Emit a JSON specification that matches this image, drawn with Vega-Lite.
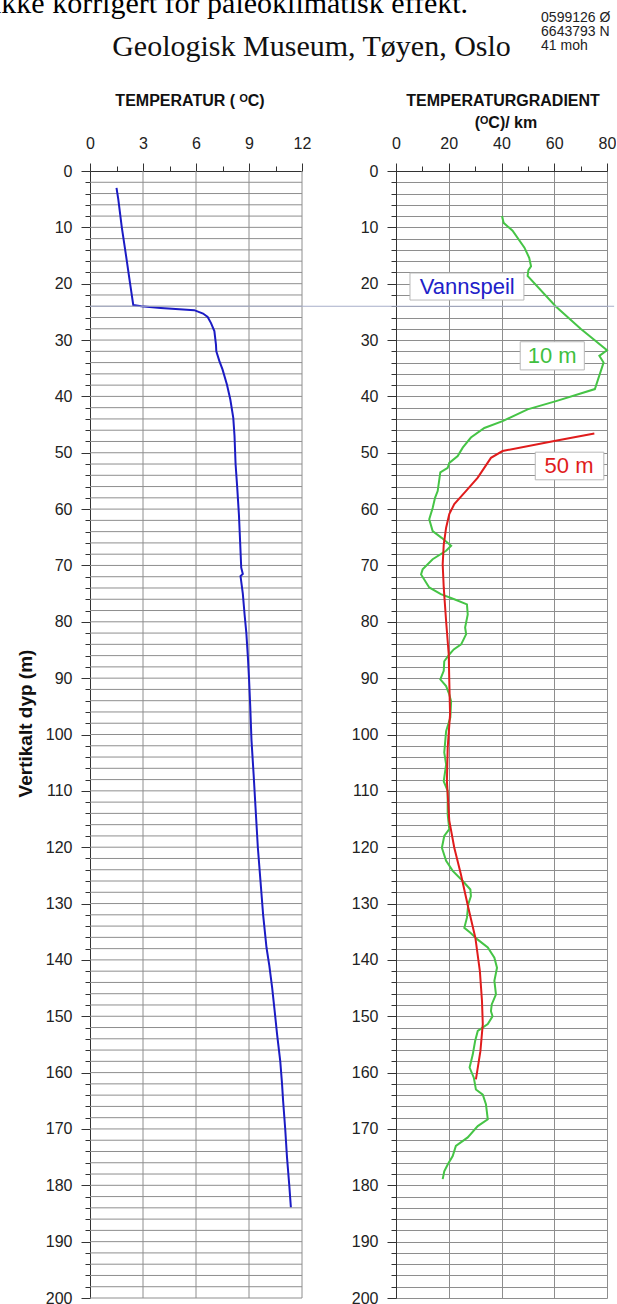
{
  "$schema": "https://vega.github.io/schema/vega-lite/v6.json",
  "autosize": {"type": "pad"},
  "padding": {"top": -12, "left": -8, "right": 0, "bottom": 0},
  "background": "white",
  "bounds": "flush",
  "spacing": 94,
  "datasets": {
    "temp": [
      {"depth": 3, "temp": 1.5}, {"depth": 5, "temp": 1.6}, {"depth": 10, "temp": 1.8}, {"depth": 15, "temp": 2.04},
      {"depth": 20, "temp": 2.27}, {"depth": 23.8, "temp": 2.45}, {"depth": 24.0, "temp": 2.9}, {"depth": 24.3, "temp": 4.0},
      {"depth": 24.7, "temp": 5.9}, {"depth": 25.3, "temp": 6.4}, {"depth": 25.9, "temp": 6.66}, {"depth": 27, "temp": 6.85},
      {"depth": 28.4, "temp": 7.04}, {"depth": 30, "temp": 7.1}, {"depth": 30.8, "temp": 7.13}, {"depth": 32, "temp": 7.15},
      {"depth": 33.7, "temp": 7.32}, {"depth": 35.2, "temp": 7.5}, {"depth": 37.9, "temp": 7.75}, {"depth": 40.5, "temp": 7.94},
      {"depth": 43.8, "temp": 8.11}, {"depth": 47, "temp": 8.18}, {"depth": 52, "temp": 8.24}, {"depth": 56, "temp": 8.33},
      {"depth": 61, "temp": 8.43}, {"depth": 66, "temp": 8.5}, {"depth": 70.4, "temp": 8.56}, {"depth": 71.5, "temp": 8.65},
      {"depth": 71.9, "temp": 8.52}, {"depth": 75, "temp": 8.65}, {"depth": 78.7, "temp": 8.75}, {"depth": 82, "temp": 8.85},
      {"depth": 86.4, "temp": 8.94}, {"depth": 90, "temp": 9.0}, {"depth": 95, "temp": 9.07}, {"depth": 101, "temp": 9.14},
      {"depth": 107, "temp": 9.26}, {"depth": 113, "temp": 9.37}, {"depth": 120, "temp": 9.5}, {"depth": 126, "temp": 9.65},
      {"depth": 132, "temp": 9.8}, {"depth": 137.8, "temp": 9.99}, {"depth": 141, "temp": 10.15}, {"depth": 144.9, "temp": 10.31},
      {"depth": 149, "temp": 10.45}, {"depth": 153.2, "temp": 10.59}, {"depth": 158, "temp": 10.77}, {"depth": 162, "temp": 10.87},
      {"depth": 165, "temp": 10.93}, {"depth": 170, "temp": 11.05}, {"depth": 175, "temp": 11.15}, {"depth": 180, "temp": 11.28},
      {"depth": 183.9, "temp": 11.37}
    ],
    "grad": [
      {"series": "10 m", "depth": 8.0, "grad": 40.2}, {"series": "10 m", "depth": 9.2, "grad": 40.8}, {"series": "10 m", "depth": 10.6, "grad": 44.2},
      {"series": "10 m", "depth": 13.6, "grad": 48.7}, {"series": "10 m", "depth": 15.4, "grad": 50.5}, {"series": "10 m", "depth": 16.9, "grad": 51.2},
      {"series": "10 m", "depth": 17.6, "grad": 50.2}, {"series": "10 m", "depth": 18.6, "grad": 49.9}, {"series": "10 m", "depth": 24, "grad": 60.5},
      {"series": "10 m", "depth": 28, "grad": 70}, {"series": "10 m", "depth": 31.8, "grad": 80}, {"series": "10 m", "depth": 32.8, "grad": 77.1},
      {"series": "10 m", "depth": 34.0, "grad": 78.7}, {"series": "10 m", "depth": 38.7, "grad": 75.4}, {"series": "10 m", "depth": 40.8, "grad": 61},
      {"series": "10 m", "depth": 42.3, "grad": 49.9}, {"series": "10 m", "depth": 44.4, "grad": 40.4}, {"series": "10 m", "depth": 45.6, "grad": 33.5},
      {"series": "10 m", "depth": 47.3, "grad": 28.4}, {"series": "10 m", "depth": 49.1, "grad": 25.3}, {"series": "10 m", "depth": 50.6, "grad": 23.4},
      {"series": "10 m", "depth": 51.8, "grad": 20.2}, {"series": "10 m", "depth": 52.7, "grad": 19.6}, {"series": "10 m", "depth": 53.5, "grad": 16.8},
      {"series": "10 m", "depth": 56.8, "grad": 15.8}, {"series": "10 m", "depth": 58, "grad": 14.8}, {"series": "10 m", "depth": 59.8, "grad": 13.9},
      {"series": "10 m", "depth": 61.8, "grad": 12.6}, {"series": "10 m", "depth": 63.9, "grad": 13.9}, {"series": "10 m", "depth": 65.1, "grad": 17.3},
      {"series": "10 m", "depth": 66.5, "grad": 20.9}, {"series": "10 m", "depth": 67.4, "grad": 19}, {"series": "10 m", "depth": 68.9, "grad": 13.9},
      {"series": "10 m", "depth": 70.7, "grad": 10.1}, {"series": "10 m", "depth": 71.6, "grad": 9.5}, {"series": "10 m", "depth": 73.9, "grad": 12.6},
      {"series": "10 m", "depth": 75.1, "grad": 17}, {"series": "10 m", "depth": 76, "grad": 22.1}, {"series": "10 m", "depth": 76.9, "grad": 26.9},
      {"series": "10 m", "depth": 78.7, "grad": 27.2}, {"series": "10 m", "depth": 81, "grad": 26.2}, {"series": "10 m", "depth": 82.2, "grad": 26.6},
      {"series": "10 m", "depth": 84, "grad": 24.7}, {"series": "10 m", "depth": 84.9, "grad": 21.9}, {"series": "10 m", "depth": 85.8, "grad": 20.2},
      {"series": "10 m", "depth": 87, "grad": 18.3}, {"series": "10 m", "depth": 88.7, "grad": 18.1}, {"series": "10 m", "depth": 90.2, "grad": 16.8},
      {"series": "10 m", "depth": 91.4, "grad": 19}, {"series": "10 m", "depth": 92.9, "grad": 20.2}, {"series": "10 m", "depth": 94.1, "grad": 20.9},
      {"series": "10 m", "depth": 97, "grad": 20.6}, {"series": "10 m", "depth": 99.4, "grad": 19}, {"series": "10 m", "depth": 103.2, "grad": 18.3},
      {"series": "10 m", "depth": 105.3, "grad": 19}, {"series": "10 m", "depth": 108.3, "grad": 18.1}, {"series": "10 m", "depth": 110, "grad": 19.6},
      {"series": "10 m", "depth": 114.2, "grad": 19.6}, {"series": "10 m", "depth": 116.8, "grad": 20.2}, {"series": "10 m", "depth": 118, "grad": 18.3},
      {"series": "10 m", "depth": 120.1, "grad": 17.4}, {"series": "10 m", "depth": 122.4, "grad": 19}, {"series": "10 m", "depth": 124.2, "grad": 21.5},
      {"series": "10 m", "depth": 126, "grad": 25.3}, {"series": "10 m", "depth": 127.5, "grad": 28.2}, {"series": "10 m", "depth": 128.7, "grad": 28.4},
      {"series": "10 m", "depth": 130.1, "grad": 27.4}, {"series": "10 m", "depth": 132.5, "grad": 26.9}, {"series": "10 m", "depth": 134.3, "grad": 25.9},
      {"series": "10 m", "depth": 135.2, "grad": 28.2}, {"series": "10 m", "depth": 136.4, "grad": 31}, {"series": "10 m", "depth": 137.8, "grad": 34.8},
      {"series": "10 m", "depth": 139.6, "grad": 37.3}, {"series": "10 m", "depth": 141.4, "grad": 38.3}, {"series": "10 m", "depth": 143.7, "grad": 37.3},
      {"series": "10 m", "depth": 146.1, "grad": 37.9}, {"series": "10 m", "depth": 147.9, "grad": 36.3}, {"series": "10 m", "depth": 149.1, "grad": 36},
      {"series": "10 m", "depth": 150, "grad": 36.6}, {"series": "10 m", "depth": 151.4, "grad": 34.8}, {"series": "10 m", "depth": 152.6, "grad": 31},
      {"series": "10 m", "depth": 154.4, "grad": 30}, {"series": "10 m", "depth": 156.8, "grad": 29.1}, {"series": "10 m", "depth": 159.1, "grad": 27.9},
      {"series": "10 m", "depth": 160.9, "grad": 29.5}, {"series": "10 m", "depth": 163, "grad": 30.3}, {"series": "10 m", "depth": 163.9, "grad": 32.9},
      {"series": "10 m", "depth": 165.6, "grad": 34.1}, {"series": "10 m", "depth": 168.3, "grad": 34.8}, {"series": "10 m", "depth": 169.5, "grad": 31},
      {"series": "10 m", "depth": 171.5, "grad": 27.2}, {"series": "10 m", "depth": 173, "grad": 22.7}, {"series": "10 m", "depth": 174.8, "grad": 21.5},
      {"series": "10 m", "depth": 176.3, "grad": 19.6}, {"series": "10 m", "depth": 177.5, "grad": 18.3}, {"series": "10 m", "depth": 178.9, "grad": 17.7},
      {"series": "50 m", "depth": 46.6, "grad": 75.2}, {"series": "50 m", "depth": 47.9, "grad": 60}, {"series": "50 m", "depth": 49.7, "grad": 40.4},
      {"series": "50 m", "depth": 50.9, "grad": 36}, {"series": "50 m", "depth": 54.4, "grad": 31}, {"series": "50 m", "depth": 56.8, "grad": 26.5},
      {"series": "50 m", "depth": 59.1, "grad": 22.1}, {"series": "50 m", "depth": 60.9, "grad": 20.2}, {"series": "50 m", "depth": 63.3, "grad": 19},
      {"series": "50 m", "depth": 66.3, "grad": 18.1}, {"series": "50 m", "depth": 69.8, "grad": 17.7}, {"series": "50 m", "depth": 73.9, "grad": 18.1},
      {"series": "50 m", "depth": 79.9, "grad": 19}, {"series": "50 m", "depth": 85.8, "grad": 20}, {"series": "50 m", "depth": 90.5, "grad": 20.2},
      {"series": "50 m", "depth": 96.4, "grad": 20.5}, {"series": "50 m", "depth": 102.3, "grad": 19.6}, {"series": "50 m", "depth": 108.3, "grad": 19.3},
      {"series": "50 m", "depth": 115.3, "grad": 20.2}, {"series": "50 m", "depth": 120.1, "grad": 22.1}, {"series": "50 m", "depth": 124.8, "grad": 24.6},
      {"series": "50 m", "depth": 130.7, "grad": 27.4}, {"series": "50 m", "depth": 136.1, "grad": 30.1}, {"series": "50 m", "depth": 142, "grad": 31.8},
      {"series": "50 m", "depth": 147.3, "grad": 32.6}, {"series": "50 m", "depth": 151.4, "grad": 32.9}, {"series": "50 m", "depth": 156.2, "grad": 32},
      {"series": "50 m", "depth": 161.2, "grad": 30.3}
    ],
    "hgrid": [
      {"d": 2}, {"d": 4}, {"d": 6}, {"d": 8}, {"d": 10}, {"d": 12}, {"d": 14}, {"d": 16}, {"d": 18}, {"d": 20},
      {"d": 22}, {"d": 24}, {"d": 26}, {"d": 28}, {"d": 30}, {"d": 32}, {"d": 34}, {"d": 36}, {"d": 38}, {"d": 40},
      {"d": 42}, {"d": 44}, {"d": 46}, {"d": 48}, {"d": 50}, {"d": 52}, {"d": 54}, {"d": 56}, {"d": 58}, {"d": 60},
      {"d": 62}, {"d": 64}, {"d": 66}, {"d": 68}, {"d": 70}, {"d": 72}, {"d": 74}, {"d": 76}, {"d": 78}, {"d": 80},
      {"d": 82}, {"d": 84}, {"d": 86}, {"d": 88}, {"d": 90}, {"d": 92}, {"d": 94}, {"d": 96}, {"d": 98}, {"d": 100},
      {"d": 102}, {"d": 104}, {"d": 106}, {"d": 108}, {"d": 110}, {"d": 112}, {"d": 114}, {"d": 116}, {"d": 118}, {"d": 120},
      {"d": 122}, {"d": 124}, {"d": 126}, {"d": 128}, {"d": 130}, {"d": 132}, {"d": 134}, {"d": 136}, {"d": 138}, {"d": 140},
      {"d": 142}, {"d": 144}, {"d": 146}, {"d": 148}, {"d": 150}, {"d": 152}, {"d": 154}, {"d": 156}, {"d": 158}, {"d": 160},
      {"d": 162}, {"d": 164}, {"d": 166}, {"d": 168}, {"d": 170}, {"d": 172}, {"d": 174}, {"d": 176}, {"d": 178}, {"d": 180},
      {"d": 182}, {"d": 184}, {"d": 186}, {"d": 188}, {"d": 190}, {"d": 192}, {"d": 194}, {"d": 196}, {"d": 198}, {"d": 200}
    ]
  },
  "hconcat": [
    {
      "width": 212,
      "height": 1127,
      "layer": [
        {
          "data": {"name": "hgrid"},
          "mark": {"type": "rule", "color": "#8e8e8e", "strokeWidth": 1},
          "encoding": {
            "y": {"field": "d", "type": "quantitative"},
            "x": {"datum": 0, "type": "quantitative"},
            "x2": {"datum": 12}
          }
        },
        {
          "data": {"values": [{"t": 3}, {"t": 6}, {"t": 9}, {"t": 12}]},
          "mark": {"type": "rule", "color": "#8e8e8e", "strokeWidth": 1},
          "encoding": {
            "x": {"field": "t", "type": "quantitative"},
            "y": {"datum": 0, "type": "quantitative"},
            "y2": {"datum": 200}
          }
        },
        {
          "data": {"name": "temp"},
          "mark": {"type": "line", "color": "#1c1cc4", "strokeWidth": 2},
          "encoding": {
            "x": {
              "field": "temp", "type": "quantitative",
              "scale": {"domain": [0, 12], "nice": false, "zero": false},
              "axis": {
                "orient": "top", "title": null, "grid": false,
                "values": [0, 1.5, 3, 4.5, 6, 7.5, 9, 10.5, 12], "tickCount": 50,
                "labelExpr": "datum.value % 3 === 0 ? format(datum.value, 'd') : ''",
                "labelOverlap": false, "labelFlush": false,
                "tickSize": {"condition": {"test": "datum.value % 3 === 0", "value": 8}, "value": 5},
                "labelPadding": 12
              }
            },
            "y": {
              "field": "depth", "type": "quantitative",
              "scale": {"domain": [0, 200], "nice": false, "zero": false, "reverse": true},
              "axis": {
                "title": "Vertikalt dyp (m)", "grid": false,
                "titleFontSize": 19, "titleFontWeight": "bold", "titleColor": "#111",
                "titleX": -65, "titleY": 552, "titleAlign": "center", "titleBaseline": "middle", "titleAngle": -90,
                "values": [0,2,4,6,8,10,12,14,16,18,20,22,24,26,28,30,32,34,36,38,40,42,44,46,48,50,52,54,56,58,60,62,64,66,68,70,72,74,76,78,80,82,84,86,88,90,92,94,96,98,100,102,104,106,108,110,112,114,116,118,120,122,124,126,128,130,132,134,136,138,140,142,144,146,148,150,152,154,156,158,160,162,164,166,168,170,172,174,176,178,180,182,184,186,188,190,192,194,196,198,200],
                "tickCount": 500,
                "labelExpr": "datum.value % 10 === 0 ? format(datum.value, 'd') : ''",
                "labelOverlap": false, "labelFlush": false,
                "tickSize": {"condition": {"test": "datum.value % 10 === 0", "value": 9}, "value": 5},
                "labelPadding": 9
              }
            },
            "order": {"field": "depth", "type": "quantitative"}
          }
        }
      ]
    },
    {
      "width": 211,
      "height": 1127,
      "layer": [
        {
          "data": {"name": "grad"},
          "mark": {"type": "line", "strokeWidth": 2},
          "encoding": {
            "x": {
              "field": "grad", "type": "quantitative",
              "scale": {"domain": [0, 80], "nice": false, "zero": false},
              "axis": {
                "orient": "top", "title": null, "grid": true,
                "values": [0, 10, 20, 30, 40, 50, 60, 70, 80], "tickCount": 50,
                "labelExpr": "datum.value % 20 === 0 ? format(datum.value, 'd') : ''",
                "labelOverlap": false, "labelFlush": false,
                "tickSize": {"condition": {"test": "datum.value % 20 === 0", "value": 8}, "value": 5},
                "gridColor": {"condition": {"test": "datum.value % 20 === 0", "value": "#8e8e8e"}, "value": "rgba(255,255,255,0)"},
                "labelPadding": 12
              }
            },
            "y": {
              "field": "depth", "type": "quantitative",
              "scale": {"domain": [0, 200], "nice": false, "zero": false, "reverse": true},
              "axis": {
                "title": null,
                "values": [0,2,4,6,8,10,12,14,16,18,20,22,24,26,28,30,32,34,36,38,40,42,44,46,48,50,52,54,56,58,60,62,64,66,68,70,72,74,76,78,80,82,84,86,88,90,92,94,96,98,100,102,104,106,108,110,112,114,116,118,120,122,124,126,128,130,132,134,136,138,140,142,144,146,148,150,152,154,156,158,160,162,164,166,168,170,172,174,176,178,180,182,184,186,188,190,192,194,196,198,200],
                "tickCount": 500,
                "labelExpr": "datum.value % 10 === 0 ? format(datum.value, 'd') : ''",
                "labelOverlap": false, "labelFlush": false,
                "tickSize": {"condition": {"test": "datum.value % 10 === 0", "value": 9}, "value": 5},
                "labelPadding": 9
              }
            },
            "color": {"field": "series", "type": "nominal", "scale": {"domain": ["10 m", "50 m"], "range": ["#46c446", "#e01c1c"]}, "legend": null},
            "order": {"field": "depth", "type": "quantitative"}
          }
        },
        {
          "data": {"values": [{"depth": 24}]},
          "mark": {"type": "rule", "color": "#a7aec9", "strokeWidth": 1.2},
          "encoding": {
            "y": {"field": "depth", "type": "quantitative"},
            "x": {"datum": -116, "type": "quantitative"},
            "x2": {"datum": 82.7}
          }
        },
        {
          "data": {"values": [{}]},
          "mark": {"type": "rect", "fill": "white", "stroke": "#b8b8b8", "strokeWidth": 1},
          "encoding": {"x": {"datum": 5.3, "type": "quantitative"}, "x2": {"datum": 48.5}, "y": {"datum": 18.1, "type": "quantitative"}, "y2": {"datum": 22.9}}
        },
        {
          "data": {"values": [{}]},
          "mark": {"type": "text", "text": "Vannspeil", "font": "Liberation Sans", "fontSize": 22, "align": "center", "baseline": "middle", "color": "#2121c8"},
          "encoding": {"x": {"datum": 27, "type": "quantitative"}, "y": {"datum": 20.5, "type": "quantitative"}}
        },
        {
          "data": {"values": [{}]},
          "mark": {"type": "rect", "fill": "white", "stroke": "#b8b8b8", "strokeWidth": 1},
          "encoding": {"x": {"datum": 47.1, "type": "quantitative"}, "x2": {"datum": 71.4}, "y": {"datum": 30.3, "type": "quantitative"}, "y2": {"datum": 35.3}}
        },
        {
          "data": {"values": [{}]},
          "mark": {"type": "text", "text": "10 m", "font": "Liberation Sans", "fontSize": 22, "align": "center", "baseline": "middle", "color": "#3fbf3f"},
          "encoding": {"x": {"datum": 59.2, "type": "quantitative"}, "y": {"datum": 32.8, "type": "quantitative"}}
        },
        {
          "data": {"values": [{}]},
          "mark": {"type": "rect", "fill": "white", "stroke": "#b8b8b8", "strokeWidth": 1},
          "encoding": {"x": {"datum": 52.8, "type": "quantitative"}, "x2": {"datum": 78.8}, "y": {"datum": 49.9, "type": "quantitative"}, "y2": {"datum": 54.8}}
        },
        {
          "data": {"values": [{}]},
          "mark": {"type": "text", "text": "50 m", "font": "Liberation Sans", "fontSize": 22, "align": "center", "baseline": "middle", "color": "#e01c1c"},
          "encoding": {"x": {"datum": 65.6, "type": "quantitative"}, "y": {"datum": 52.4, "type": "quantitative"}}
        },
        {
          "data": {"values": [{}]},
          "mark": {"type": "text", "text": "ikke korrigert for paleoklimatisk effekt.", "font": "Liberation Serif", "fontSize": 30, "align": "left", "baseline": "alphabetic", "color": "#000"},
          "encoding": {"x": {"datum": -152.8, "type": "quantitative"}, "y": {"datum": -28.04, "type": "quantitative"}}
        },
        {
          "data": {"values": [{}]},
          "mark": {"type": "text", "text": "Geologisk Museum, Tøyen, Oslo", "font": "Liberation Serif", "fontSize": 30, "align": "left", "baseline": "alphabetic", "color": "#111"},
          "encoding": {"x": {"datum": -107.6, "type": "quantitative"}, "y": {"datum": -20.4, "type": "quantitative"}}
        },
        {
          "data": {"values": [{}]},
          "mark": {"type": "text", "text": "TEMPERATUR ( ᴼC)", "font": "Liberation Sans", "fontSize": 16, "fontWeight": "bold", "align": "center", "baseline": "alphabetic", "color": "#111"},
          "encoding": {"x": {"datum": -78.1, "type": "quantitative"}, "y": {"datum": -11.5, "type": "quantitative"}}
        },
        {
          "data": {"values": [{}]},
          "mark": {"type": "text", "text": "TEMPERATURGRADIENT", "font": "Liberation Sans", "fontSize": 16, "fontWeight": "bold", "align": "center", "baseline": "alphabetic", "color": "#111"},
          "encoding": {"x": {"datum": 40.6, "type": "quantitative"}, "y": {"datum": -11.5, "type": "quantitative"}}
        },
        {
          "data": {"values": [{}]},
          "mark": {"type": "text", "text": "(ᴼC)/ km", "font": "Liberation Sans", "fontSize": 16, "fontWeight": "bold", "align": "center", "baseline": "alphabetic", "color": "#111"},
          "encoding": {"x": {"datum": 41.7, "type": "quantitative"}, "y": {"datum": -7.6, "type": "quantitative"}}
        },
        {
          "data": {"values": [{}]},
          "mark": {"type": "text", "text": ["0599126 Ø", "6643793 N", "41 moh"], "lineHeight": 14, "font": "Liberation Sans", "fontSize": 14, "align": "left", "baseline": "alphabetic", "color": "#222"},
          "encoding": {"x": {"datum": 55, "type": "quantitative"}, "y": {"datum": -26.44, "type": "quantitative"}}
        }
      ]
    }
  ],
  "config": {
    "view": {"stroke": null},
    "axis": {
      "labelFont": "Liberation Sans", "labelFontSize": 16, "labelColor": "#222",
      "titleFont": "Liberation Sans",
      "domainColor": "#333", "tickColor": "#333", "gridColor": "#8e8e8e", "gridWidth": 1
    }
  }
}
